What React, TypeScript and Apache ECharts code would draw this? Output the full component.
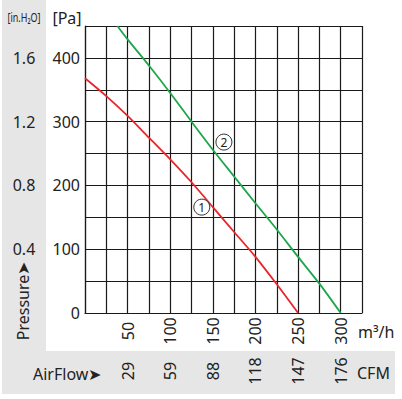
import React, { useEffect, useRef } from "react";
import * as echarts from "echarts";

// Airflow (m³/h) vs static pressure (Pa)
const curve1: [number, number][] = [
  [0, 368], [25, 340], [50, 309], [75, 275], [100, 241], [125, 205],
  [150, 166], [175, 127], [200, 88], [225, 45], [250, 0],
];
const curve2: [number, number][] = [
  [38, 450], [50, 429], [75, 388], [100, 345], [125, 300], [150, 256],
  [175, 214], [200, 172], [225, 131], [250, 88], [275, 46], [300, 0],
];
const flowTicks = [50, 100, 150, 200, 250, 300];
const cfmLabels = ["29", "59", "88", "118", "147", "176"];
const paTicks = [0, 100, 200, 300, 400];
const inH2OTicks = [100, 200, 300, 400];
const inH2OLabels = ["0.4", "0.8", "1.2", "1.6"];
const curveTags = [
  { name: "1", at: [137, 166] },
  { name: "2", at: [163, 268] },
];

const FONT = "Noto Sans";
const TXT = "#222";

export default function App() {
  const ref = useRef<HTMLDivElement>(null);
  useEffect(() => {
    if (!ref.current) return;
    const chart = echarts.init(ref.current, null, { renderer: "svg" });
    const tagPoint = (i: number) => ({
      coord: curveTags[i].at,
      value: curveTags[i].name,
      symbol: "circle",
      symbolSize: 16,
      itemStyle: { color: "#fff", borderColor: "#333", borderWidth: 1 },
      label: {
        show: true,
        position: "inside",
        formatter: curveTags[i].name,
        color: "#222",
        fontSize: 12,
        fontFamily: FONT,
      },
    });
    chart.setOption({
      animation: false,
      backgroundColor: "#fff",
      textStyle: { fontFamily: FONT },
      grid: { left: 85, top: 26, width: 277, height: 287 },
      graphic: [
        { type: "rect", z: -10, shape: { x: 2, y: 0, width: 44, height: 394 }, style: { fill: "#e6e6e6" } },
        { type: "rect", z: -10, shape: { x: 2, y: 351, width: 393, height: 43 }, style: { fill: "#e6e6e6" } },
        { type: "text", x: 67, y: 18, style: { text: "[Pa]", fontSize: 16, fontFamily: FONT, fill: TXT, align: "center", verticalAlign: "middle" } },
        { type: "text", x: 24, y: 17, scaleX: 0.75, style: { text: "[in.H₂O]", fontSize: 12, fontFamily: FONT, fill: TXT, align: "center", verticalAlign: "middle" } },
        { type: "text", x: 23, y: 301, rotation: Math.PI / 2, style: { text: "Pressure➤", fontSize: 16, fontFamily: FONT, fill: TXT, align: "center", verticalAlign: "middle" } },
        { type: "text", x: 358, y: 332, style: { text: "m³/h", fontSize: 16, fontFamily: FONT, fill: TXT, align: "left", verticalAlign: "middle" } },
        { type: "text", x: 357, y: 373, style: { text: "CFM", fontSize: 16, fontFamily: FONT, fill: TXT, align: "left", verticalAlign: "middle" } },
        { type: "text", x: 33, y: 374, style: { text: "AirFlow➤", fontSize: 16, fontFamily: FONT, fill: TXT, align: "left", verticalAlign: "middle" } },
      ],
      xAxis: [
        {
          type: "value",
          min: 0,
          max: 325,
          interval: 25,
          axisLine: { show: true, lineStyle: { color: "#1a1a1a", width: 1.2 } },
          axisTick: { show: false },
          splitLine: { show: true, lineStyle: { color: "#1a1a1a", width: 1.2 } },
          axisLabel: {
            rotate: 90,
            margin: 18,
            align: "center",
            verticalAlign: "middle",
            fontSize: 16,
            fontFamily: FONT,
            color: TXT,
            showMinLabel: true,
            showMaxLabel: true,
            formatter: (v: number) => (flowTicks.includes(v) ? String(v) : ""),
          },
        },
        {
          type: "value",
          position: "bottom",
          min: 0,
          max: 325,
          interval: 25,
          axisLine: { show: false },
          axisTick: { show: false },
          splitLine: { show: false },
          axisLabel: {
            rotate: 90,
            margin: 58,
            align: "center",
            verticalAlign: "middle",
            fontSize: 16,
            fontFamily: FONT,
            color: TXT,
            formatter: (v: number) => {
              const i = flowTicks.indexOf(v);
              return i >= 0 ? cfmLabels[i] : "";
            },
          },
        },
      ],
      yAxis: [
        {
          type: "value",
          min: 0,
          max: 450,
          interval: 50,
          axisLine: { show: true, lineStyle: { color: "#1a1a1a", width: 1.2 } },
          axisTick: { show: false },
          splitLine: { show: true, lineStyle: { color: "#1a1a1a", width: 1.2 } },
          axisLabel: {
            margin: 5,
            fontSize: 16,
            fontFamily: FONT,
            color: TXT,
            formatter: (v: number) => (paTicks.includes(v) ? String(v) : ""),
          },
        },
        {
          type: "value",
          position: "left",
          min: 0,
          max: 450,
          interval: 50,
          axisLine: { show: false },
          axisTick: { show: false },
          splitLine: { show: false },
          axisLabel: {
            margin: 61,
            align: "center",
            fontSize: 16,
            fontFamily: FONT,
            color: TXT,
            formatter: (v: number) => {
              const i = inH2OTicks.indexOf(v);
              return i >= 0 ? inH2OLabels[i] : "";
            },
          },
        },
      ],
      series: [
        {
          type: "line",
          data: curve1,
          smooth: 0.3,
          symbol: "none",
          lineStyle: { color: "#e8262b", width: 1.8 },
          markPoint: { data: [tagPoint(0)], silent: true },
        },
        {
          type: "line",
          data: curve2,
          smooth: 0.3,
          symbol: "none",
          lineStyle: { color: "#1ea64b", width: 1.8 },
          markPoint: { data: [tagPoint(1)], silent: true },
        },
      ],
    });
    return () => chart.dispose();
  }, []);
  return (
    <div
      ref={ref}
      style={{ position: "fixed", left: 0, top: 0, width: 402, height: 399 }}
    />
  );
}
